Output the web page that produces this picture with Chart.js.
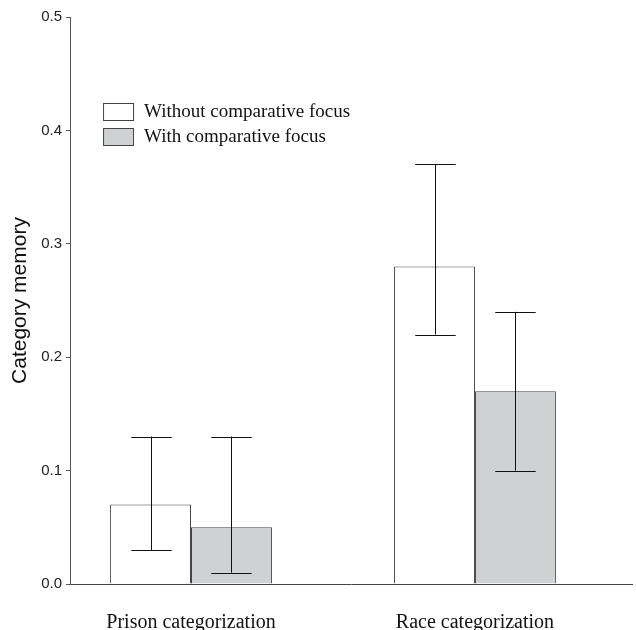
<!DOCTYPE html>
<html>
<head>
<meta charset="utf-8">
<script src="https://cdn.jsdelivr.net/npm/chart.js@4"></script>
<style>
  html, body { margin: 0; padding: 0; background: #fff; }
  #wrap { width: 636px; height: 630px; }
</style>
</head>
<body>
<div id="wrap"><canvas id="myChart"></canvas></div>
<script>
const categories = ['Prison categorization', 'Race categorization'];
const seriesNames = ['Without comparative focus', 'With comparative focus'];
const withoutFocus = [0.07, 0.28];
const withoutLow = [0.03, 0.22];
const withoutHigh = [0.13, 0.37];
const withFocus = [0.05, 0.17];
const withLow = [0.01, 0.10];
const withHigh = [0.13, 0.24];
const yTicks = [0, 0.1, 0.2, 0.3, 0.4, 0.5];

const sans = "'Liberation Sans', Arial, sans-serif";
const serif = "'Liberation Serif', 'Times New Roman', serif";

const errorBars = {
    id: 'errorBars',
    afterDatasetsDraw(chart) {
        const c = chart.ctx;
        const y = chart.scales.y;
        c.save();
        c.strokeStyle = '#111';
        c.lineWidth = 1;
        chart.data.datasets.forEach((ds, i) => {
            chart.getDatasetMeta(i).data.forEach((bar, j) => {
                const x = Math.round(bar.x) + 0.5;
                const top = y.getPixelForValue(ds.high[j]);
                const bot = y.getPixelForValue(ds.low[j]);
                const half = bar.width / 4;
                c.beginPath();
                c.moveTo(x, top); c.lineTo(x, bot);
                c.moveTo(x - half, Math.round(top) + 0.5); c.lineTo(x + half, Math.round(top) + 0.5);
                c.moveTo(x - half, Math.round(bot) + 0.5); c.lineTo(x + half, Math.round(bot) + 0.5);
                c.stroke();
            });
        });
        c.restore();
    }
};

const boxLegend = {
    id: 'boxLegend',
    afterDraw(chart) {
        const c = chart.ctx;
        const left = chart.chartArea.left + 33;
        const top = chart.chartArea.top + 86;
        c.save();
        c.font = '19px ' + serif;
        c.textBaseline = 'middle';
        chart.data.datasets.forEach((ds, i) => {
            const yy = top + i * 25;
            c.fillStyle = ds.backgroundColor;
            c.fillRect(left, yy, 30, 17);
            c.strokeStyle = '#444';
            c.lineWidth = 1;
            c.strokeRect(left + 0.5, yy + 0.5, 30, 17);
            c.fillStyle = '#111';
            c.fillText(ds.label, left + 41, yy + 9);
        });
        c.restore();
    }
};

const ctx = document.getElementById('myChart');

new Chart(ctx, {
    type: 'bar',
    data: {
        datasets: [
            {
                label: seriesNames[0],
                data: withoutFocus.map((v, i) => ({ x: i, y: v })),
                low: withoutLow,
                high: withoutHigh,
                backgroundColor: '#ffffff',
                borderColor: '#444',
                borderWidth: 1
            }, {
                label: seriesNames[1],
                data: withFocus.map((v, i) => ({ x: i, y: v })),
                low: withLow,
                high: withHigh,
                backgroundColor: '#d0d1d3',
                borderColor: '#444',
                borderWidth: 1
            }
        ]
    },
    options: {
        responsive: true,
        maintainAspectRatio: false,
        animation: false,
        categoryPercentage: 0.57,
        barPercentage: 1,
        layout: { padding: { top: 17, right: 4, left: 3, bottom: -24 } },
        plugins: { legend: { display: false }, tooltip: { enabled: false } },
        scales: {
            x: {
                type: 'linear',
                offset: false,
                min: -0.426,
                max: 1.553,
                afterBuildTicks: (axis) => { axis.ticks = categories.map((c, i) => ({ value: i })); },
                grid: { display: false },
                border: { color: '#444', width: 1 },
                ticks: {
                    callback: (v) => categories[v],
                    font: { family: serif, size: 20 },
                    color: '#111',
                    padding: 19,
                    maxRotation: 0
                }
            },
            y: {
                min: 0,
                max: 0.5,
                afterBuildTicks: (axis) => { axis.ticks = yTicks.map(v => ({ value: v })); },
                grid: { drawOnChartArea: false, drawTicks: true, tickLength: 4, color: '#555' },
                border: { color: '#555', width: 1 },
                ticks: {
                    callback: (v) => v.toFixed(1),
                    font: { family: sans, size: 15 },
                    color: '#222',
                    padding: 4
                },
                title: {
                    display: true,
                    text: 'Category memory',
                    font: { family: sans, size: 21 },
                    color: '#111',
                    padding: { top: 5, bottom: 4 }
                }
            }
        }
    },
    plugins: [errorBars, boxLegend]
});
</script>
</body>
</html>
